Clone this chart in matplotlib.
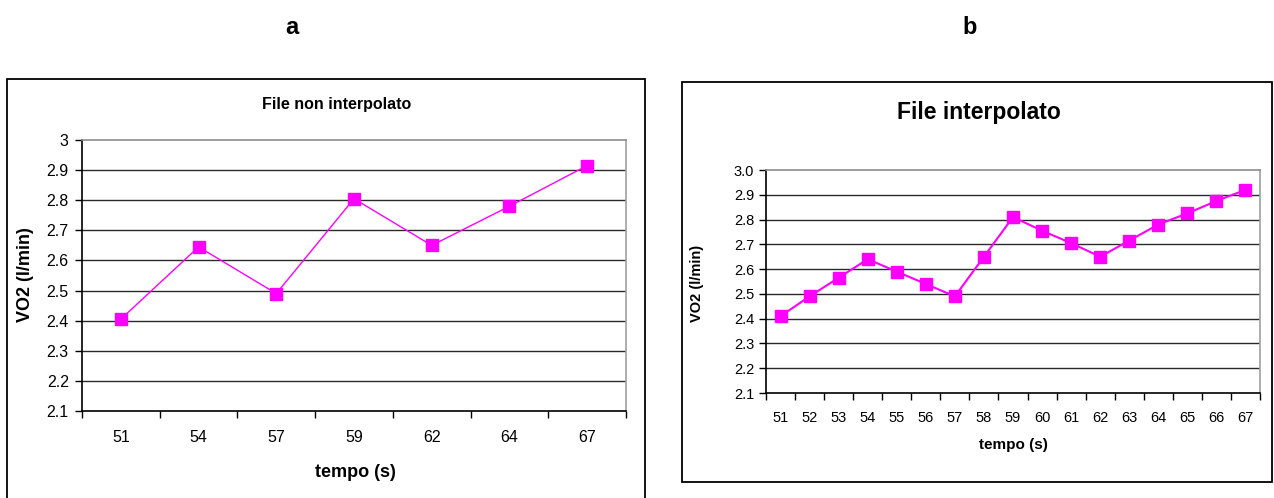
import matplotlib
matplotlib.use("Agg")
import matplotlib.pyplot as plt
from matplotlib.patches import Rectangle
import numpy as np

plt.rcParams['font.family'] = ['Liberation Sans', 'DejaVu Sans']

# Panel a: raw (non-interpolated) samples
times_a = ["51", "54", "57", "59", "62", "64", "67"]
vo2_a = [2.405, 2.645, 2.49, 2.805, 2.65, 2.78, 2.915]

# Panel b: interpolated to one sample per second
times_b = ["51", "52", "53", "54", "55", "56", "57", "58", "59",
           "60", "61", "62", "63", "64", "65", "66", "67"]
vo2_b = [2.41, 2.49, 2.565, 2.64, 2.59, 2.54, 2.49, 2.65, 2.81,
         2.755, 2.705, 2.65, 2.715, 2.78, 2.825, 2.875, 2.92]

yticks = [2.1, 2.2, 2.3, 2.4, 2.5, 2.6, 2.7, 2.8, 2.9, 3.0]
yticklabels_a = ["2.1", "2.2", "2.3", "2.4", "2.5", "2.6", "2.7", "2.8", "2.9", "3"]
yticklabels_b = ["2.1", "2.2", "2.3", "2.4", "2.5", "2.6", "2.7", "2.8", "2.9", "3.0"]

W, H = 1274, 498
fig = plt.figure(figsize=(W / 100, H / 100), dpi=100)
fig.patch.set_facecolor("white")

MAG = "#FF00FF"


def px_axes(x0, y0, x1, y1):
    """Axes from a pixel box (top-left origin)."""
    return fig.add_axes([x0 / W, 1 - y1 / H, (x1 - x0) / W, (y1 - y0) / H])


def fig_text(x, y, s, **kw):
    fig.text(x / W, 1 - y / H, s, ha="center", va="center", **kw)


def frame(x0, y0, x1, y1):
    fig.add_artist(Rectangle((x0 / W, 1 - y1 / H), (x1 - x0) / W, (y1 - y0) / H,
                             transform=fig.transFigure, fill=False,
                             edgecolor="black", linewidth=1.3, zorder=0))


def style_axes(ax, cats, vals, yl, tick_fs, ms, lw, xpad, ypad):
    n = len(cats)
    x = np.arange(n)
    ax.set_xlim(-0.5, n - 0.5)
    ax.set_ylim(2.1, 3.0)
    for v in yticks[1:-1]:
        ax.axhline(v, color="#2a2a2a", linewidth=1.0, zorder=1)
    ax.plot(x, vals, color=MAG, linewidth=lw, marker="s", markersize=ms,
            markerfacecolor=MAG, markeredgecolor=MAG, zorder=3, clip_on=False)
    ax.set_xticks(x)
    ax.set_xticklabels(cats, fontsize=tick_fs)
    ax.set_xticks(np.arange(n + 1) - 0.5, minor=True)
    ax.tick_params(axis="x", which="major", length=0, pad=xpad)
    ax.tick_params(axis="x", which="minor", length=5, width=1, direction="out",
                   color="black")
    ax.set_yticks(yticks)
    ax.set_yticklabels(yl, fontsize=tick_fs)
    ax.tick_params(axis="y", length=5, width=1, direction="out", pad=ypad,
                   color="black")
    ax.spines["left"].set_color("black")
    ax.spines["bottom"].set_color("black")
    ax.spines["top"].set_color("#8c8c8c")
    ax.spines["right"].set_color("#a0a0a0")
    for s in ax.spines.values():
        s.set_linewidth(1.2)


# ---- panel a ----
frame(7, 79, 645, 520)
ax_a = px_axes(82, 140, 626, 411)
style_axes(ax_a, times_a, vo2_a, yticklabels_a, 11.5, 8, 1.0, 14, 4.5)
fig_text(337, 105, "File non interpolato", fontsize=11.5, fontweight="bold")
fig_text(26, 275, "VO2 (l/min)", fontsize=13, fontweight="bold", rotation=90)
fig_text(355, 472, "tempo (s)", fontsize=13, fontweight="bold")
fig_text(292, 27, "a", fontsize=17, fontweight="bold")

# ---- panel b ----
frame(682, 82, 1272, 482)
ax_b = px_axes(766, 170, 1260, 393)
style_axes(ax_b, times_b, vo2_b, yticklabels_b, 10.5, 9.3, 1.5, 13, 3.5)
fig_text(979, 112, "File interpolato", fontsize=16.5, fontweight="bold")
fig_text(697, 283, "VO2 (l/min)", fontsize=10.5, fontweight="bold", rotation=90)
fig_text(1013, 445, "tempo (s)", fontsize=11, fontweight="bold")
fig_text(970, 27, "b", fontsize=17, fontweight="bold")

fig.savefig("out.png", dpi=100, facecolor="white")
